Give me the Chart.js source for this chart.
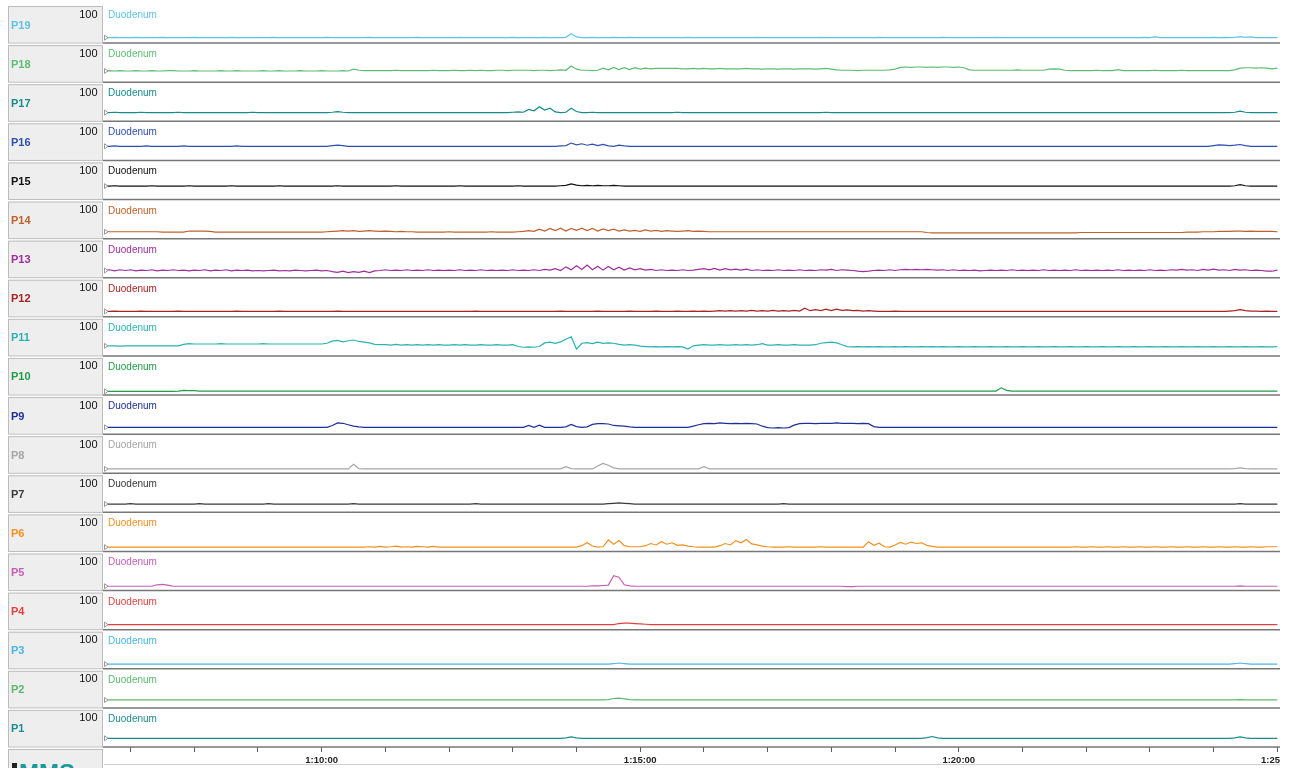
<!DOCTYPE html>
<html>
<head>
<meta charset="utf-8">
<title>Duodenum pressure channels</title>
<script src="https://cdn.jsdelivr.net/npm/chart.js@4/dist/chart.umd.min.js"></script>
<style>
  html, body { margin: 0; padding: 0; background: #ffffff; overflow: hidden; }
  #wrap { position: absolute; left: 0; top: 0; width: 1280px; height: 768px; }
</style>
</head>
<body>
<div id="wrap"><canvas id="chart"></canvas></div>
<script>
// Channels from top to bottom
const channels = ['P19','P18','P17','P16','P15','P14','P13','P12','P11','P10','P9','P8','P7','P6','P5','P4','P3','P2','P1'];
const channelColors = ['#5fc3e4','#5dbd73','#178a8a','#2d4fb0','#111111','#c0602c','#a02d9e','#a82323','#2ab3b0','#1f9e45',
                       '#1f2f9a','#a6a6a6','#3a3a3a','#f2901e','#c65db5','#e53e3e','#49b6e6','#5cb86e','#1c8c8c'];
const siteName = 'Duodenum';
const fullScale = 100;
const scaleFloor = -8;

// Time axis (seconds after 1:00:00), samples every 5 s from 1:06:35
const startSec = 395;
const stepSec = 5;
const endSec = 1501.6;
const firstMinuteTick = 420;
const tickSeconds = [600, 900, 1200, 1500];
const tickTexts = ['1:10:00', '1:15:00', '1:20:00', '1:25:00'];

// Pressure samples (mmHg), one value per 5 s
const p19 = [
7,7,8,7,7,7,8,7,7,7,7,8,7,7,7,7,7,8,7,7,
7,7,7,7,8,7,7,7,7,7,7,7,8,7,7,7,7,7,7,7,
7,7,8,7,7,7,7,7,7,7,8,7,7,7,7,7,7,7,7,8,
7,7,7,7,7,7,7,8,7,7,7,7,7,7,7,7,7,8,7,7,
7,7,7,8,7,7,7,8,18,9,7,7,8,7,7,7,8,7,7,8,
7,7,7,7,7,7,7,7,7,7,8,7,7,7,7,7,7,7,7,7,
7,7,7,8,7,7,7,7,7,7,7,7,7,7,7,8,7,7,7,7,
7,7,7,7,7,7,8,7,7,7,7,7,7,7,7,7,7,7,8,7,
7,7,7,7,7,7,7,7,8,7,7,7,7,7,7,7,7,7,7,7,
7,7,7,7,7,7,7,7,7,7,7,7,7,7,7,7,8,7,9,7,
7,7,7,7,7,7,7,7,7,8,7,8,7,8,10,8,9,7,7,7,
7,7];
const p18 = [
23,24,23,24,23,23,24,23,23,24,23,23,24,24,23,23,23,24,23,23,
23,23,24,23,23,24,23,23,23,23,24,23,23,24,23,23,23,24,23,23,
23,24,23,23,23,24,23,28,25,24,24,24,24,24,24,25,24,24,24,24,
24,24,25,24,24,24,25,24,24,25,24,25,24,24,25,25,24,25,25,25,
25,24,25,25,24,25,26,25,37,28,25,25,24,25,31,26,33,27,32,27,
32,28,31,29,30,30,30,30,30,29,29,30,29,30,29,29,30,29,29,29,
29,30,29,29,28,29,29,28,29,29,28,29,29,29,28,29,30,28,26,25,
25,25,24,25,25,25,25,25,26,28,33,34,33,34,34,33,34,33,34,34,
33,34,32,26,25,25,25,25,25,25,25,25,26,25,25,25,25,25,28,29,
28,25,24,24,24,24,24,25,24,24,24,27,24,24,24,24,24,24,25,24,
24,24,24,25,24,24,24,24,24,24,24,24,24,26,31,32,32,31,32,31,
29,31];
const p17 = [
16,16,17,16,16,16,16,17,16,16,16,16,16,16,17,16,16,16,16,16,
16,16,16,16,16,16,16,16,17,16,16,16,16,16,16,16,16,16,16,16,
16,16,16,17,19,17,16,16,16,16,16,16,16,16,16,16,16,16,16,16,
16,16,16,16,16,16,16,16,16,16,16,16,16,16,16,16,16,17,18,17,
25,21,32,23,28,18,16,17,28,19,16,16,17,16,16,16,16,16,16,16,
16,16,16,16,16,16,16,16,17,16,16,16,16,16,16,16,16,16,16,16,
16,16,16,16,16,16,16,16,16,16,16,16,16,16,16,16,17,16,16,16,
16,16,16,16,16,16,16,16,16,16,16,16,16,16,16,16,16,16,16,16,
16,16,16,16,16,16,16,16,16,16,16,16,16,16,16,16,16,16,16,16,
16,16,16,16,16,16,16,16,16,16,16,16,16,16,16,16,16,16,16,16,
16,16,16,16,16,16,16,16,16,16,16,16,16,17,20,17,16,16,16,16,
16,16];
const p16 = [
31,31,32,31,31,31,31,31,32,31,31,31,31,31,31,32,31,31,31,31,
31,31,31,31,31,32,31,31,31,31,31,31,31,31,31,31,31,31,31,31,
31,31,31,33,34,33,31,31,31,31,31,31,31,31,31,31,31,31,31,31,
31,31,31,31,31,31,31,31,31,31,31,31,31,31,31,31,31,31,31,31,
31,31,31,31,31,31,32,33,40,35,38,34,37,33,36,32,31,34,32,31,
31,31,31,31,31,31,31,31,31,31,31,31,31,31,31,31,31,31,31,31,
31,31,31,31,31,31,31,31,31,31,31,31,31,31,31,31,31,31,31,31,
31,31,31,31,31,31,31,31,31,31,31,31,31,31,31,31,31,31,31,31,
31,31,31,31,31,31,31,31,31,31,31,31,31,31,31,31,31,31,31,31,
31,31,31,31,31,31,31,31,31,31,31,31,31,31,31,31,31,31,31,31,
31,31,31,31,31,31,31,31,31,33,35,34,33,34,36,33,31,31,31,31,
31,31];
const p15 = [
29,29,30,29,29,29,29,29,29,30,29,29,29,29,29,29,30,29,29,29,
29,29,29,29,30,29,29,29,29,29,29,29,29,30,29,29,29,29,29,29,
29,29,29,29,30,29,29,29,29,29,29,29,29,29,29,30,29,29,29,29,
29,29,29,29,29,29,29,30,29,29,29,29,29,29,29,29,29,29,30,29,
29,29,29,29,29,29,30,31,35,32,30,31,30,31,30,30,31,30,29,29,
29,29,29,29,29,29,29,29,29,29,29,29,29,29,29,29,29,29,29,29,
29,29,29,29,29,29,29,29,29,29,29,29,29,29,29,29,29,29,29,29,
29,29,29,29,29,29,29,29,29,29,29,29,29,29,29,29,29,29,29,29,
29,29,29,29,29,29,29,29,29,29,29,29,29,29,29,29,29,29,29,29,
29,29,29,29,29,29,29,29,29,29,29,29,29,29,29,29,29,29,29,29,
29,29,29,29,29,29,29,29,29,29,29,29,29,30,33,30,29,29,29,29,
29,29];
const p14 = [
11,11,11,11,11,11,11,11,11,11,11,10,10,10,10,10,13,13,13,13,
12,10,10,10,10,10,10,10,10,10,10,10,10,10,10,10,10,10,10,10,
10,10,11,12,13,14,13,14,12,13,14,13,12,13,12,11,12,11,11,10,
10,10,10,10,10,11,10,10,10,10,10,10,10,11,10,10,10,10,11,12,
14,12,18,13,20,14,21,13,20,15,21,14,20,13,19,14,18,13,16,13,
15,12,16,13,15,12,14,13,12,13,14,12,13,12,11,11,11,11,11,11,
11,11,11,11,11,11,11,11,11,11,11,11,11,11,11,11,11,11,11,11,
11,11,11,11,11,11,11,11,11,11,11,11,11,11,11,9,8,8,8,8,
8,8,8,8,8,8,8,8,8,8,8,8,8,8,8,8,8,8,8,8,
8,8,8,8,9,9,9,9,9,9,9,9,9,9,9,9,9,9,9,9,
9,9,9,9,10,10,10,11,11,11,12,12,12,13,13,12,13,12,12,12,
12,11];
const p13 = [
12,14,11,14,12,14,11,13,12,14,11,13,12,14,12,13,11,13,12,14,
11,13,12,14,11,13,12,13,11,12,11,12,13,11,12,11,13,12,11,12,
13,11,12,9,7,10,6,9,7,10,6,11,12,14,12,13,12,14,12,13,
12,14,12,13,12,13,12,14,12,13,12,14,12,13,12,13,12,14,12,13,
12,14,12,15,13,17,12,22,14,25,15,27,14,24,13,23,14,21,13,19,
14,17,13,15,12,14,12,13,12,14,12,13,15,17,14,18,13,17,14,16,
13,16,12,14,12,13,12,14,12,13,12,14,12,13,12,14,13,15,12,14,
13,12,10,9,10,12,13,12,14,12,14,15,14,15,14,15,14,13,14,12,
14,12,13,12,13,11,12,13,12,13,12,14,12,13,12,13,12,14,12,13,
12,13,12,14,12,13,12,13,12,13,12,14,12,13,12,13,12,14,12,13,
12,14,13,15,13,14,12,15,13,16,13,14,12,15,13,14,12,13,12,10,
10,13];
const p12 = [
7,7,8,7,7,7,7,8,7,7,7,7,7,7,8,7,7,7,7,7,
7,7,7,7,7,8,7,7,7,7,7,7,7,8,7,7,7,7,7,7,
7,7,7,7,8,7,7,7,7,7,7,7,7,7,7,7,7,7,7,7,
7,7,7,7,7,7,7,7,7,7,8,7,7,7,7,7,7,7,7,7,
7,7,7,7,7,7,8,7,7,7,7,7,7,8,7,7,7,7,7,8,
7,7,7,7,8,7,7,7,8,7,7,8,7,8,7,8,9,8,9,8,
9,8,10,8,9,8,10,8,9,8,10,8,16,9,12,9,13,9,13,10,
11,9,10,8,9,8,7,7,7,8,7,7,7,7,7,7,7,7,7,7,
7,7,7,7,7,7,7,7,7,7,7,7,7,7,7,7,7,7,7,7,
7,7,7,7,7,7,7,7,7,7,7,7,7,7,7,7,7,7,7,7,
7,7,7,7,7,7,7,7,7,7,7,7,8,9,12,9,8,8,7,8,
7,7];
const p11 = [
20,20,20,19,20,20,20,20,20,20,20,20,20,20,20,24,26,25,25,25,
25,25,26,25,25,25,25,25,25,25,26,25,25,25,25,25,25,25,25,25,
25,25,27,33,35,31,34,36,32,30,28,24,23,23,22,24,22,23,22,23,
22,23,22,23,22,22,23,22,23,22,22,23,22,22,23,22,22,23,18,16,
17,16,18,28,30,27,31,38,45,11,27,29,26,30,27,28,27,24,22,23,
22,19,18,17,18,17,18,17,18,17,11,20,22,23,22,22,23,22,22,23,
22,23,22,23,26,22,22,23,22,22,23,22,22,22,23,27,29,30,28,23,
18,17,18,17,18,17,18,17,17,18,17,18,17,17,18,17,18,17,18,17,
17,18,17,17,18,17,17,18,17,17,18,17,17,18,17,17,18,17,17,18,
17,17,18,17,17,18,17,17,18,17,17,18,17,17,18,17,17,18,17,17,
18,17,17,18,17,17,18,17,17,18,17,17,18,17,17,18,17,17,18,17,
17,18];
const p10 = [
2,2,2,2,2,2,2,2,2,2,2,2,2,2,3,5,4,4,3,3,
3,3,3,3,3,3,3,3,3,3,3,3,3,3,3,3,3,3,3,3,
3,3,3,3,3,3,3,3,3,3,3,3,3,3,3,3,3,3,3,3,
3,3,3,3,3,3,3,3,3,3,3,3,3,3,3,3,3,3,3,3,
3,3,3,3,3,3,3,3,3,3,3,3,3,3,3,3,3,3,3,3,
3,3,3,3,3,3,3,3,3,3,3,3,3,3,3,3,3,3,3,3,
3,3,3,3,3,3,3,3,3,3,3,3,3,3,3,3,3,3,3,3,
3,3,3,3,3,3,3,3,3,3,3,3,3,3,3,3,3,3,3,3,
3,3,3,3,3,3,3,3,3,12,5,3,3,3,3,3,3,3,3,3,
3,3,3,3,3,3,3,3,3,3,3,3,3,3,3,3,3,3,3,3,
3,3,3,3,3,3,3,3,3,3,3,3,3,3,3,3,3,3,3,3,
3,3];
const p9 = [
11,11,11,11,11,11,11,11,11,11,11,11,11,11,11,11,11,11,11,11,
11,11,11,11,11,11,11,11,11,11,11,11,11,11,11,11,11,11,11,11,
11,11,11,16,23,22,18,14,12,11,11,11,11,11,11,11,11,11,11,11,
11,11,11,11,11,11,11,11,11,11,11,11,11,11,11,11,11,11,11,11,
16,11,17,11,11,11,11,12,19,13,11,12,19,21,21,20,16,15,14,12,
11,11,11,11,11,11,11,11,11,11,11,14,18,21,22,21,23,22,21,22,
21,22,21,20,14,10,9,10,9,10,17,21,22,22,21,22,22,22,23,22,
22,22,21,22,21,13,11,11,11,11,11,11,11,11,11,11,11,11,11,11,
11,11,11,11,11,11,11,11,11,11,11,11,11,11,11,11,11,11,11,11,
11,11,11,11,11,11,11,11,11,11,11,11,11,11,11,11,11,11,11,11,
11,11,11,11,11,11,11,11,11,11,11,11,11,11,11,11,11,11,11,11,
11,11];
const p8 = [
4,4,4,4,4,4,4,4,4,4,4,4,4,4,4,4,4,4,4,4,
4,4,4,4,4,4,4,4,4,4,4,4,4,4,4,4,4,4,4,4,
4,4,4,4,4,4,4,17,5,4,4,4,4,4,4,4,4,4,4,4,
4,4,4,4,4,4,4,4,4,4,4,4,4,4,4,4,4,4,4,4,
4,4,4,4,4,4,4,10,5,4,4,4,4,12,19,14,7,4,4,4,
4,4,4,4,4,4,4,4,4,4,4,4,4,10,4,4,4,4,4,4,
4,4,4,4,4,4,4,4,4,4,4,4,4,4,4,4,4,4,4,4,
4,4,4,4,4,4,4,4,4,4,4,4,4,4,4,4,4,4,4,4,
4,4,4,4,4,4,4,4,4,4,4,4,4,4,4,4,4,4,4,4,
4,4,4,4,4,4,4,4,4,4,4,4,4,4,4,4,4,4,4,4,
4,4,4,4,4,4,4,4,4,4,4,4,4,5,7,5,4,4,4,4,
4,4];
const p7 = [
15,15,15,15,15,16,15,15,15,15,15,15,15,15,15,15,15,15,16,15,
15,15,15,15,15,15,15,15,15,15,15,16,15,15,15,15,15,15,15,15,
15,15,15,15,15,15,15,16,15,15,15,15,15,15,15,15,15,15,15,15,
15,15,15,15,15,15,15,15,15,15,16,15,15,15,15,15,15,15,15,15,
15,15,15,15,15,15,15,15,15,15,15,15,15,15,15,16,17,18,17,16,
15,15,15,15,15,15,15,15,15,15,15,15,15,15,15,15,15,15,15,15,
15,15,15,15,15,15,15,15,16,15,15,15,15,15,15,15,15,15,15,15,
15,15,15,15,15,15,15,15,15,15,15,15,15,15,15,15,15,15,15,15,
15,15,15,15,15,15,15,15,15,15,15,15,15,15,15,15,15,15,15,15,
15,15,15,15,15,15,15,15,15,15,15,15,15,15,15,15,15,15,15,15,
15,15,15,15,15,15,15,15,15,15,15,15,15,15,16,15,15,15,15,15,
15,15];
const p6 = [
4,4,4,4,4,4,4,4,4,4,4,4,4,4,4,4,4,4,4,4,
4,4,4,4,4,4,4,4,4,4,4,4,4,4,4,4,4,4,4,4,
4,4,4,4,4,4,4,4,4,4,5,4,6,4,5,7,4,5,4,6,
5,4,6,4,4,4,4,4,4,4,4,4,4,4,4,4,4,4,4,4,
4,4,4,4,4,4,4,4,4,4,8,16,7,4,5,24,12,22,8,5,
5,5,8,14,10,19,12,16,9,10,7,5,4,4,4,4,8,14,10,22,
16,25,13,10,7,5,4,4,4,5,4,4,4,4,4,5,4,4,4,4,
4,4,4,4,19,9,15,5,4,10,17,12,18,14,16,9,6,4,4,4,
4,4,4,4,4,4,4,4,4,4,4,4,4,4,4,4,4,4,4,4,
4,4,4,5,4,4,5,4,4,5,4,4,5,4,4,5,4,4,5,4,
4,5,4,4,5,4,4,5,4,4,5,4,4,5,4,4,5,4,4,5,
5,5];
const p5 = [
4,4,4,4,4,4,4,4,4,4,8,9,7,4,4,4,4,4,4,4,
4,4,4,4,4,4,4,4,4,4,4,4,4,4,4,4,4,4,4,4,
4,4,4,4,4,4,4,4,4,4,4,4,4,4,4,4,4,4,4,4,
4,4,4,4,4,4,4,4,4,4,4,4,4,4,4,4,4,4,4,4,
4,4,4,4,4,4,4,4,4,4,4,4,5,5,6,7,33,29,8,5,
4,4,4,4,4,4,4,4,4,4,4,4,4,4,4,4,4,4,4,4,
4,4,4,4,4,4,4,4,4,4,4,4,4,4,4,4,4,4,4,4,
3,3,4,4,4,4,4,4,4,4,4,4,4,4,4,4,4,4,4,4,
4,4,4,4,4,4,4,4,4,4,4,4,4,4,4,4,4,4,4,4,
4,4,4,4,4,4,4,4,4,4,4,4,4,4,4,4,4,4,4,4,
4,4,4,4,4,4,4,4,4,4,4,4,4,4,5,4,4,4,4,4,
4,4];
const p4 = [
6,6,6,6,6,6,6,6,6,6,6,6,6,6,6,6,6,6,6,6,
6,6,6,6,6,6,6,6,6,6,6,6,6,6,6,6,6,6,6,6,
6,6,6,6,6,6,6,6,6,6,6,6,6,6,6,6,6,6,6,6,
6,6,6,6,6,6,6,6,6,6,6,6,6,6,6,6,6,6,6,6,
6,6,6,6,6,6,6,6,6,6,6,6,6,6,6,6,6,9,10,10,
9,8,7,6,6,6,6,6,6,6,6,6,6,6,6,6,6,6,6,6,
6,6,6,6,6,6,6,6,6,6,6,6,6,6,6,6,6,6,6,6,
6,6,6,6,6,6,6,6,6,6,6,6,6,6,6,6,6,6,6,6,
6,6,6,6,6,6,6,6,6,6,6,6,6,6,6,6,6,6,6,6,
6,6,6,6,6,6,6,6,6,6,6,6,6,6,6,6,6,6,6,6,
6,6,6,6,6,6,6,6,6,6,6,6,6,6,6,6,6,6,6,6,
6,6];
const p3 = [
5,5,5,5,5,5,5,5,5,5,5,5,5,5,5,5,5,5,5,5,
5,5,5,5,5,5,5,5,5,5,5,5,5,5,5,5,5,5,5,5,
5,5,5,5,5,5,5,5,5,5,5,5,5,5,5,5,5,5,5,5,
5,5,5,5,5,5,5,5,5,5,5,5,5,5,5,5,5,5,5,5,
5,5,5,5,5,5,5,5,5,5,5,5,5,5,5,5,6,8,6,5,
5,5,5,5,5,5,5,5,5,5,5,5,5,5,5,5,5,5,5,5,
5,5,5,5,5,5,5,5,5,5,5,5,5,5,5,5,5,5,5,5,
5,5,5,5,5,5,5,5,5,5,5,5,5,5,5,5,5,5,5,5,
5,5,5,5,5,5,5,5,5,5,5,5,5,5,5,5,5,5,5,5,
5,5,5,5,5,5,5,5,5,5,5,5,5,5,5,5,5,5,5,5,
5,5,5,5,5,5,5,5,5,5,5,5,5,6,8,6,5,5,5,5,
5,5];
const p2 = [
14,14,14,14,14,14,14,14,14,14,14,14,14,14,14,14,14,14,14,14,
14,14,14,14,14,14,14,14,14,14,14,14,14,14,14,14,14,14,14,14,
14,14,14,14,14,14,14,14,14,14,14,14,14,14,14,14,14,14,14,14,
14,14,14,14,14,14,14,14,14,14,14,14,14,14,14,14,14,14,14,14,
14,14,14,14,14,14,14,14,14,14,14,14,14,14,14,15,18,19,17,15,
14,14,14,14,14,14,14,14,14,14,14,14,14,14,14,14,14,14,14,14,
14,14,14,14,14,14,14,14,14,14,14,14,14,14,14,14,14,14,14,14,
14,14,14,14,14,14,14,14,14,14,14,14,14,14,14,14,14,14,14,14,
14,14,14,14,14,14,14,14,14,14,14,14,14,14,14,14,14,14,14,14,
14,14,14,14,14,14,14,14,14,14,14,14,14,14,14,14,14,14,14,14,
14,14,14,14,14,14,14,14,14,14,14,14,14,14,15,14,14,14,14,14,
14,14];
const p1 = [
16,16,16,16,16,16,16,16,16,16,16,16,16,16,16,16,16,16,16,16,
16,16,16,16,16,16,16,16,16,16,16,16,16,16,16,16,16,16,16,16,
16,16,16,16,16,16,16,16,16,16,16,16,16,16,16,16,16,16,16,16,
16,16,16,16,16,16,16,16,16,16,16,16,16,16,16,16,16,16,16,16,
16,16,16,16,16,16,16,17,20,17,16,16,16,16,16,16,16,16,16,16,
16,16,16,16,16,16,16,16,16,16,16,16,16,16,16,16,16,16,16,16,
16,16,16,16,16,16,16,16,16,16,16,16,16,16,16,16,16,16,16,16,
16,16,16,16,16,16,16,16,16,16,16,16,16,16,16,18,21,17,16,16,
16,16,16,16,16,16,16,16,16,16,16,16,16,16,16,16,16,16,16,16,
16,16,16,16,16,16,16,16,16,16,16,16,16,16,16,16,16,16,16,16,
16,16,16,16,16,16,16,16,16,16,16,16,16,17,20,17,16,16,16,16,
16,16];

const traces = [p19, p18, p17, p16, p15, p14, p13, p12, p11, p10, p9, p8, p7, p6, p5, p4, p3, p2, p1];

const FONT = '"Liberation Sans", Arial, sans-serif';
Chart.defaults.font.family = FONT;

function toPoints(values) {
  return values.map((v, i) => ({ x: startSec + i * stepSec, y: v }));
}

// Shared time axis at the bottom: a tick every whole minute, labels every five
const scales = {
  x: {
    type: 'linear',
    position: 'bottom',
    min: startSec,
    max: endSec,
    ticks: {
      autoSkip: false,
      maxRotation: 0,
      padding: 3,
      color: '#222222',
      font: { family: FONT, size: 9.5, weight: 'bold' },
      callback: (v) => {
        const i = tickSeconds.indexOf(v);
        return i >= 0 ? tickTexts[i] : '';
      }
    },
    afterBuildTicks: (s) => {
      const ticks = [];
      for (let t = firstMinuteTick; t <= tickSeconds[tickSeconds.length - 1]; t += 60) ticks.push({ value: t });
      s.ticks = ticks;
    },
    grid: { display: true, drawOnChartArea: false, drawTicks: true, tickLength: 5, color: '#5a5a5a', lineWidth: 1 },
    border: { display: false },
    afterFit: (s) => { s.height = 21; s.paddingLeft = 0; s.paddingRight = 0; }
  }
};

// One stacked y-axis per channel; a higher weight places the panel nearer the top
const datasets = [];
for (let k = channels.length - 1; k >= 0; k--) {
  const id = 'y' + k;
  scales[id] = {
    type: 'linear',
    position: 'left',
    stack: 'channels',
    stackWeight: 1,
    weight: channels.length - k,
    min: scaleFloor,
    max: fullScale,
    ticks: { display: false },
    grid: { display: false },
    border: { display: false },
    afterFit: (s) => { s.width = 0; }
  };
  datasets.push({
    label: channels[k],
    data: toPoints(traces[k]),
    xAxisID: 'x',
    yAxisID: id,
    borderColor: channelColors[k],
    borderWidth: 1.2,
    pointRadius: 0,
    tension: 0,
    fill: false,
    clip: 2
  });
}

// Channel label boxes, panel separators, site captions and start markers
const panelFrame = {
  id: 'panelFrame',
  beforeDraw(chart) {
    const { ctx, chartArea } = chart;
    ctx.save();
    ctx.fillStyle = '#ffffff';
    ctx.fillRect(0, 0, chart.width, chart.height);
    channels.forEach((name, k) => {
      const s = chart.scales['y' + k];
      const top = s.top + 2;
      const h = s.bottom - 0.5 - top;
      ctx.fillStyle = '#eeeeee';
      ctx.fillRect(8.5, top, 94, h);
      ctx.strokeStyle = '#bcbcbc';
      ctx.lineWidth = 1;
      ctx.strokeRect(8.5, top + 0.5, 94, h);
      ctx.fillStyle = '#111111';
      ctx.font = '11px ' + FONT;
      ctx.textAlign = 'right';
      ctx.textBaseline = 'alphabetic';
      ctx.fillText(String(fullScale), 97.5, s.top + 13.5);
      ctx.fillStyle = channelColors[k];
      ctx.font = 'bold 11px ' + FONT;
      ctx.textAlign = 'left';
      ctx.fillText(name, 11, s.top + 24.5);
    });
    // box under the channel column, next to the time axis
    const yb = chartArea.bottom + 2;
    ctx.fillStyle = '#eeeeee';
    ctx.fillRect(8.5, yb, 94, chart.height - yb + 4);
    ctx.strokeStyle = '#bcbcbc';
    ctx.strokeRect(8.5, yb + 0.5, 94, chart.height - yb + 4);
    ctx.fillStyle = '#222222';
    ctx.fillRect(12, 763, 5, 8);
    ctx.fillStyle = '#1a9a9a';
    ctx.font = 'bold 24px ' + FONT;
    ctx.textAlign = 'left';
    ctx.fillText('MMS', 19, 781);
    // thin rule under the time labels
    ctx.strokeStyle = '#cfcfcf';
    ctx.beginPath();
    ctx.moveTo(chartArea.left, 764.5);
    ctx.lineTo(chart.width, 764.5);
    ctx.stroke();
    ctx.restore();
  },
  afterDatasetsDraw(chart) {
    const { ctx, chartArea } = chart;
    ctx.save();
    channels.forEach((name, k) => {
      const s = chart.scales['y' + k];
      // separator under each panel
      ctx.strokeStyle = '#777777';
      ctx.lineWidth = 1.5;
      ctx.beginPath();
      ctx.moveTo(chartArea.left - 1, s.bottom);
      ctx.lineTo(chartArea.right + 1, s.bottom);
      ctx.stroke();
      // site caption
      ctx.fillStyle = channelColors[k];
      ctx.font = '10px ' + FONT;
      ctx.textAlign = 'left';
      ctx.textBaseline = 'alphabetic';
      ctx.fillText(siteName, 108, s.top + 14);
      // start marker at the first sample
      const y0 = s.getPixelForValue(traces[k][0]);
      const x0 = chartArea.left + 0.5;
      ctx.fillStyle = '#ffffff';
      ctx.strokeStyle = '#9a9a9a';
      ctx.lineWidth = 1;
      ctx.beginPath();
      ctx.moveTo(x0, y0 - 2.5);
      ctx.lineTo(x0 + 3.5, y0);
      ctx.lineTo(x0, y0 + 2.5);
      ctx.closePath();
      ctx.fill();
      ctx.stroke();
    });
    ctx.restore();
  }
};

new Chart(document.getElementById('chart'), {
  type: 'line',
  data: { datasets },
  options: {
    responsive: true,
    maintainAspectRatio: false,
    animation: false,
    normalized: true,
    layout: { padding: { left: 104, right: 1, top: 4, bottom: 0 } },
    plugins: { legend: { display: false }, tooltip: { enabled: false }, title: { display: false } },
    events: [],
    scales
  },
  plugins: [panelFrame]
});
</script>
</body>
</html>
